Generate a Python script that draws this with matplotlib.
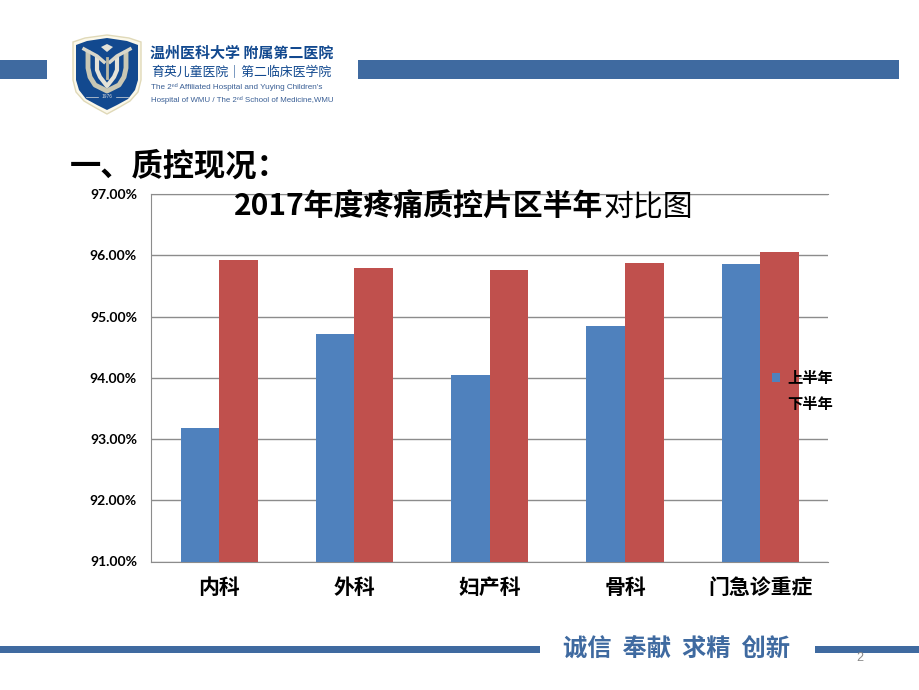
import matplotlib
matplotlib.use("Agg")
import matplotlib.pyplot as plt
from matplotlib.patches import Polygon, Rectangle
import numpy as np

plt.rcParams['font.family'] = ['Noto Sans CJK SC', 'DejaVu Sans']

categories = ['内科', '外科', '妇产科', '骨科', '门急诊重症']
first_half = [93.18, 94.72, 94.05, 94.85, 95.86]
second_half = [95.92, 95.79, 95.76, 95.87, 96.06]
series_names = ['上半年', '下半年']
yticks = [91, 92, 93, 94, 95, 96, 97]

W, H = 920, 690
BLUE = '#4F81BD'
RED = '#C0504D'
BAND = '#3F6AA0'
NAVY = '#12498F'

fig = plt.figure(figsize=(W / 100, H / 100), dpi=100)

# slide decoration, in pixel coords
bg = fig.add_axes([0, 0, 1, 1], zorder=0)
bg.set_xlim(0, W)
bg.set_ylim(H, 0)
bg.axis('off')
bg.add_patch(Rectangle((0, 60), 47, 19, color=BAND, lw=0))
bg.add_patch(Rectangle((358, 60), 541, 19, color=BAND, lw=0))
bg.add_patch(Rectangle((0, 646), 540, 7, color=BAND, lw=0))
bg.add_patch(Rectangle((815, 646), 105, 7, color=BAND, lw=0))

# logo shield
outer = [(73, 42), (85, 38), (107, 35), (129, 38), (141, 42), (141, 80), (138, 92), (130, 101), (118, 108), (107, 114),
         (96, 108), (84, 101), (76, 92), (73, 80)]
inner = [(76, 45), (87, 41), (107, 38), (127, 41), (138, 45), (138, 80), (135, 90), (128, 99), (117, 105), (107, 110),
         (97, 105), (86, 99), (79, 90), (76, 80)]
bg.add_patch(Polygon(outer, closed=True, fc='#FBF8EA', ec='#E0D9B8', lw=1))
bg.add_patch(Polygon(inner, closed=True, fc=NAVY, ec='none'))
bg.plot([88, 88, 90, 95, 107, 119, 124, 126, 126], [53, 68, 77, 85, 91, 85, 77, 68, 53], color='#C9C7B4', lw=3.5)
bg.plot([97, 97, 100, 107, 114, 117, 117], [58, 70, 77, 86, 77, 70, 58], color='#E4E2D8', lw=3)
bg.plot([84, 97, 104], [49, 56, 62], color='#D9D7CA', lw=2.5)
bg.plot([130, 117, 110], [49, 56, 62], color='#D9D7CA', lw=2.5)
bg.plot([107, 107], [58, 78], color='#B9B7A4', lw=2)
bg.add_patch(Polygon([(101, 47), (107, 44), (113, 47), (107, 52)], closed=True, fc='#E4E2D8', ec='none'))
bg.text(107, 96.5, '1976', fontsize=3.5, color='#DDDDDD', ha='center', va='center')
bg.plot([86, 98], [96.5, 96.5], color='#DDDDDD', lw=0.5)
bg.plot([116, 128], [96.5, 96.5], color='#DDDDDD', lw=0.5)

bg.text(150, 53, '温州医科大学 附属第二医院', fontsize=10.8, color=NAVY, fontweight='bold', va='center')
bg.text(151, 72, '育英儿童医院｜第二临床医学院', fontsize=9.3, color=NAVY, va='center')
latin = ['Liberation Sans', 'DejaVu Sans']
bg.text(151, 87, "The 2ⁿᵈ Affiliated Hospital and Yuying Children's", fontsize=5.9, color='#3A5F95', family=latin, va='center')
bg.text(151, 99.5, 'Hospital of WMU / The 2ⁿᵈ School of Medicine,WMU', fontsize=5.7, color='#3A5F95', family=latin, va='center')

bg.text(70, 167, '一、质控现况：', fontsize=22.5, fontweight='bold', color='black', va='center')
bg.text(563, 649, '诚信  奉献  求精  创新', fontsize=17.5, fontweight='bold', color=BAND, va='center')
bg.text(860, 658, '2', fontsize=9, color='#898989', ha='center', va='center', family='Liberation Sans')

# chart
ax = fig.add_axes([151.5 / W, 1 - 561.5 / H, (828 - 151.5) / W, (561.5 - 194) / H], zorder=1)
ax.patch.set_alpha(0)
x = np.arange(len(categories))
bar_w = 0.285
b1 = ax.bar(x - bar_w / 2, first_half, bar_w, color=BLUE, label=series_names[0], zorder=3)
b2 = ax.bar(x + bar_w / 2, second_half, bar_w, color=RED, label=series_names[1], zorder=3)

ax.set_xlim(-0.5, len(categories) - 0.5)
ax.set_ylim(91, 97)
ax.set_yticks(yticks)
ax.set_yticklabels(['%.2f%%' % v for v in yticks], fontsize=10, fontweight='bold', family='Lato')
ax.set_xticks(x)
ax.set_xticklabels(categories, fontsize=15, fontweight='bold')
ax.tick_params(axis='both', length=0)
ax.tick_params(axis='y', pad=10.5)
ax.tick_params(axis='x', pad=11)
ax.grid(axis='y', color='#8C8C8C', lw=1, zorder=1)
ax.spines['right'].set_visible(False)
ax.spines['top'].set_color('#8C8C8C')
ax.spines['left'].set_color('#8C8C8C')
ax.spines['bottom'].set_color('#8C8C8C')

# title is bold except the last characters, as on the slide
fig.text(234 / W, 1 - 207 / H, '2017年度疼痛质控片区半年', fontsize=21.5, fontweight='bold', ha='left', va='center', zorder=5)
fig.text(693 / W, 1 - 207 / H, '对比图', fontsize=21.5, ha='right', va='center', zorder=5)

leg = ax.legend(loc='center left', bbox_to_anchor=(0.906, 0.465), frameon=False, handlelength=0.55,
                handleheight=0.55, handletextpad=0.45, labelspacing=0.65, borderpad=0,
                prop={'size': 11, 'weight': 'bold'})
leg.set_zorder(6)

fig.savefig('out.png', dpi=100)
